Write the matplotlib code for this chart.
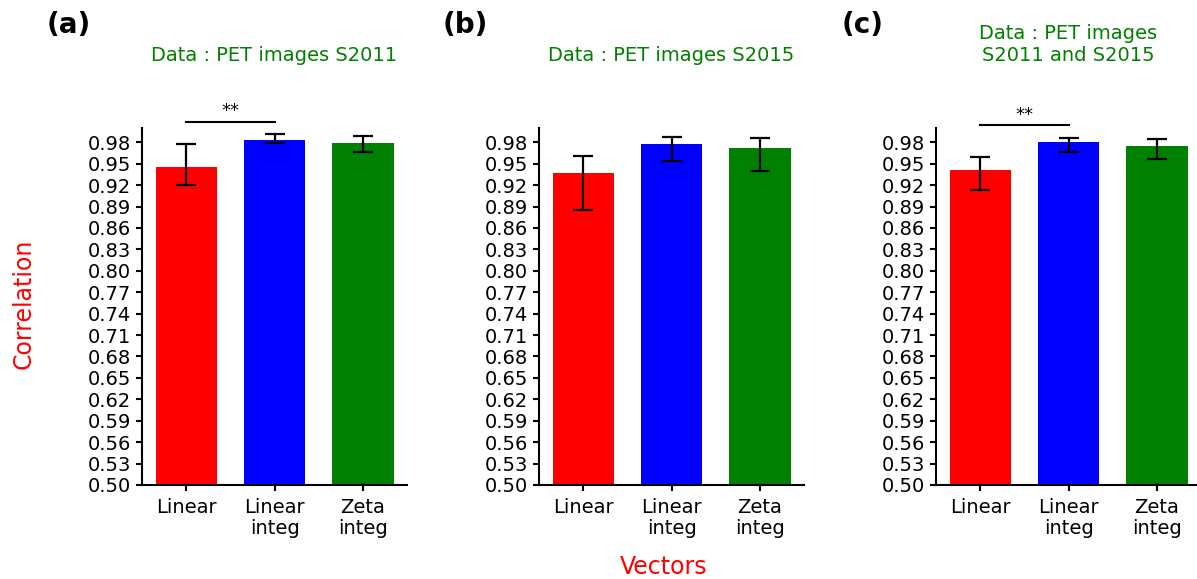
import numpy as np
import matplotlib
matplotlib.use("Agg")
import matplotlib.pyplot as plt

#---------------------------------------------------------------------------#
# data
categories = ["Linear", "Linear\ninteg", "Zeta\ninteg"]
bar_colors = ["red", "blue", "green"]
panel_tags = ["(a)", "(b)", "(c)"]
panel_titles = ["Data : PET images S2011",
                "Data : PET images S2015",
                "Data : PET images\nS2011 and S2015"]

# bar heights per panel
corr_a = [0.945, 0.983, 0.979]
corr_b = [0.937, 0.978, 0.972]
corr_c = [0.941, 0.980, 0.975]

# error bar ends (low, high) per panel
low_a = [0.920, 0.979, 0.966]
high_a = [0.978, 0.991, 0.989]
low_b = [0.885, 0.954, 0.940]
high_b = [0.961, 0.988, 0.986]
low_c = [0.913, 0.966, 0.956]
high_c = [0.959, 0.986, 0.985]

# significance bars: (panel index, from bar, to bar, label)
signif = [(0, 0, 1, "**"), (2, 0, 1, "**")]

yticks = np.arange(0.5, 1.0, 0.03)

#---------------------------------------------------------------------------#
fig = plt.figure(figsize=(11.97, 5.79), dpi=100)
W, H = 1197.0, 579.0

heights = [corr_a, corr_b, corr_c]
lows = [low_a, low_b, low_c]
highs = [high_a, high_b, high_c]

axes = []
for i in range(3):
    left = 142.3 + 397 * i
    ax = fig.add_axes([left / W, (H - 485) / H, 264.5 / W, 357 / H])
    axes.append(ax)
    x = np.arange(len(categories))
    h = np.array(heights[i])
    yerr = [h - np.array(lows[i]), np.array(highs[i]) - h]
    ax.bar(x, h, width=0.7, color=bar_colors)
    ax.errorbar(x, h, yerr=yerr, fmt="none", ecolor="black",
                elinewidth=1.6, capsize=7.5, capthick=1.6)

    ax.set_xlim(-0.5, 2.5)
    ax.set_ylim(0.5, 1.0)
    ax.set_yticks(yticks)
    ax.set_yticklabels([f"{t:.2f}" for t in yticks])
    ax.set_xticks(x)
    ax.set_xticklabels(categories, linespacing=1.15)
    ax.tick_params(labelsize=14, width=1.5, length=4.5)
    ax.tick_params(axis="x", pad=5)
    for s in ["top", "right"]:
        ax.spines[s].set_visible(False)
    for s in ["left", "bottom"]:
        ax.spines[s].set_linewidth(1.5)

    ax.set_title(panel_titles[i], color="green", fontsize=14, pad=48,
                 linespacing=1.25)
    fig.text((left - 74) / W, 1 - 25 / H, panel_tags[i], fontsize=20,
             fontweight="bold", ha="center", va="center")

for pi, a, b, lab in signif:
    ax = axes[pi]
    yy = max(highs[pi][a], highs[pi][b]) + 0.018
    ax.plot([a, b], [yy, yy], color="black", lw=1.5, clip_on=False)
    ax.text((a + b) / 2, yy + 0.002, lab, ha="center", va="bottom",
            fontsize=13, clip_on=False)

fig.text(24 / W, 1 - 304 / H, "Correlation", color="red", fontsize=17,
         rotation=90, ha="center", va="center")
fig.text(664 / W, 1 - 567 / H, "Vectors", color="red", fontsize=17,
         ha="center", va="center")

fig.savefig("out.png", dpi=100)
